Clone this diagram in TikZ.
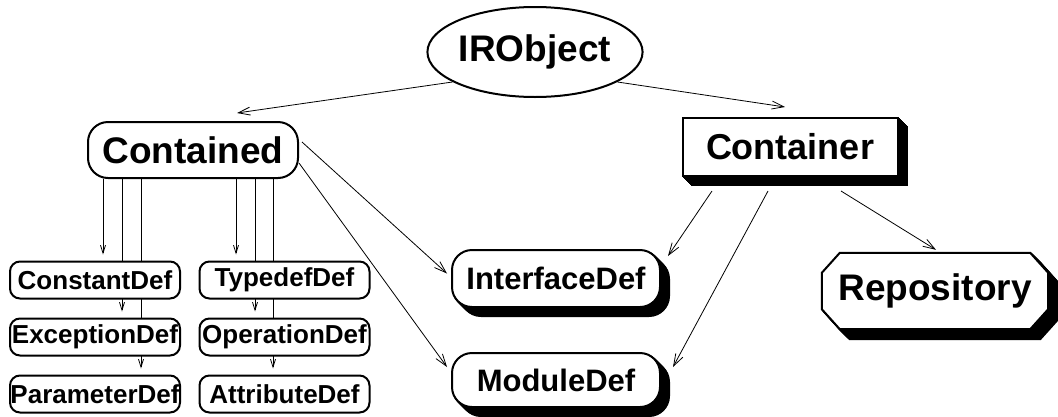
\documentclass[tikz,border=0pt]{standalone}
\usepackage{fontspec}
\setmainfont{Liberation Sans}
\usetikzlibrary{arrows.meta,calc,shadows,shapes.geometric}
\pgfdeclarelayer{edges}
\pgfdeclarelayer{back}
\pgfsetlayers{edges,back,main}

\tikzset{
  box/.style={draw, line width=2pt, fill=white, inner sep=0pt, font=\bfseries},
  extrude/.style={
    general shadow={fill=black,draw=black,shadow xshift=9pt,shadow yshift=-9pt},
    general shadow={fill=black,draw=black,shadow xshift=8pt,shadow yshift=-8pt},
    general shadow={fill=black,draw=black,shadow xshift=7pt,shadow yshift=-7pt},
    general shadow={fill=black,draw=black,shadow xshift=6pt,shadow yshift=-6pt},
    general shadow={fill=black,draw=black,shadow xshift=5pt,shadow yshift=-5pt},
    general shadow={fill=black,draw=black,shadow xshift=4pt,shadow yshift=-4pt},
    general shadow={fill=black,draw=black,shadow xshift=3pt,shadow yshift=-3pt},
    general shadow={fill=black,draw=black,shadow xshift=2pt,shadow yshift=-2pt},
    general shadow={fill=black,draw=black,shadow xshift=1pt,shadow yshift=-1pt}},
  bigfont/.style={font=\bfseries\fontsize{37}{40}\selectfont},
  midfont/.style={font=\bfseries\fontsize{31}{34}\selectfont},
  smallbox/.style={box, rounded corners=10pt, text width=170pt, align=center,
    minimum height=37pt, font=\bfseries\fontsize{26}{29}\selectfont},
  arr/.style={line width=0.8pt, -{Straight Barb[length=12pt,width=8pt,line width=0.8pt]}},
  sarr/.style={line width=0.8pt, shorten >=6pt, -{Straight Barb[length=8pt,width=5pt,line width=0.8pt]}}
}

\begin{document}
\begin{tikzpicture}[x=1pt,y=-1pt]
\useasboundingbox (0,0) rectangle (1058,416);

% top of the hierarchy
\node[box, ellipse, minimum width=210pt, minimum height=90pt, bigfont] (IRObject) at (535,52) {IRObject};

% the two abstract bases
\node[box, rounded corners=20pt, minimum width=210pt, minimum height=56pt, bigfont] (Contained) at (193,150) {Contained};
\node[box, extrude, minimum width=215pt, minimum height=58pt, font=\bfseries\fontsize{36}{40}\selectfont] (Container) at (790,147) {Container};

% contained-only definitions
\node[smallbox] (ConstantDef)  at (95,280)    {ConstantDef};
\node[smallbox] (ExceptionDef) at (95,337)    {ExceptionDef};
\node[smallbox] (ParameterDef) at (95,394)    {ParameterDef};
\node[smallbox] (TypedefDef)   at (284.5,280) {TypedefDef};
\node[smallbox] (OperationDef) at (284.5,337) {OperationDef};
\node[smallbox] (AttributeDef) at (284.5,394) {AttributeDef};

% both contained and container
\node[box, extrude, rounded corners=20pt, minimum width=208pt, minimum height=57pt, midfont] (InterfaceDef) at (556,278.5) {InterfaceDef};
\node[box, extrude, rounded corners=20pt, minimum width=208pt, minimum height=54pt, midfont] (ModuleDef) at (556,380) {ModuleDef};

% the outermost container: an octagon outline drawn behind its label
\node[inner sep=0pt, minimum width=226pt, minimum height=76pt, bigfont] (Repository) at (935,291) {Repository};
\begin{pgfonlayer}{back}
  \path[save path=\reppath]
    ($(Repository.north west)+(18,0)$) -- ($(Repository.north east)+(-18,0)$)
    -- ($(Repository.north east)+(0,20)$) -- ($(Repository.south east)+(0,-20)$)
    -- ($(Repository.south east)+(-18,0)$) -- ($(Repository.south west)+(18,0)$)
    -- ($(Repository.south west)+(0,-20)$) -- ($(Repository.north west)+(0,20)$) -- cycle;
  \foreach \d in {1,...,10}
    \path[use path=\reppath, fill=black, draw=black, line width=2pt,
          transform canvas={shift={(\d,\d)}}];
  \path[use path=\reppath, fill=white, draw=black, line width=2pt];
\end{pgfonlayer}

\begin{pgfonlayer}{edges}
  \draw[arr] (IRObject.200) -- ($(Contained.north)+(44,-8)$);
  \draw[arr] (IRObject.340) -- ($(Container.north)+(-5,-10)$);

  \draw[arr] ($(Contained.east)+(3,-8)$) -- ($(InterfaceDef.west)+(-4,-5)$);
  \draw[arr] ($(Contained.east)+(0,13)$) -- ($(ModuleDef.west)+(-4,-13)$);

  \draw[arr] ($(Container.south)+(-78,14)$) -- ($(InterfaceDef.north east)+(7,7)$);
  \draw[arr] ($(Container.south)+(-22,14)$) -- ($(ModuleDef.east)+(12,-13)$);
  \draw[arr] ($(Container.south)+(51,14)$) -- ($(Repository.north)+(1,-3)$);

  \coordinate (v1) at ($(Contained.south west)+(16,0)$);
  \coordinate (v2) at ($(Contained.south west)+(35,0)$);
  \coordinate (v3) at ($(Contained.south west)+(54,0)$);
  \coordinate (v4) at ($(Contained.south west)+(149,0)$);
  \coordinate (v5) at ($(Contained.south west)+(168,0)$);
  \coordinate (v6) at ($(Contained.south west)+(186,0)$);
  \draw[sarr] (v1) -- (v1 |- ConstantDef.north);
  \draw[sarr] (v2) -- (v2 |- ExceptionDef.north);
  \draw[sarr] (v3) -- (v3 |- ParameterDef.north);
  \draw[sarr] (v4) -- (v4 |- TypedefDef.north);
  \draw[sarr] (v5) -- (v5 |- OperationDef.north);
  \draw[sarr] (v6) -- (v6 |- AttributeDef.north);
\end{pgfonlayer}
\end{tikzpicture}
\end{document}
